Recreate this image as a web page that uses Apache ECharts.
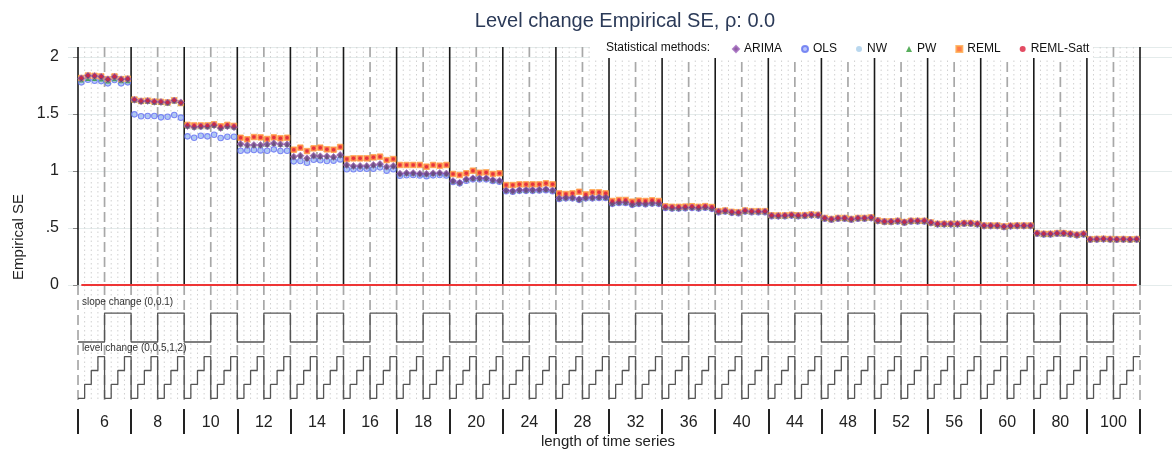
<!DOCTYPE html>
<html>
<head>
<meta charset="utf-8">
<script src="https://cdn.jsdelivr.net/npm/echarts@6/dist/echarts.min.js"></script>
<style>
  html, body { margin: 0; padding: 0; background: #fff; }
  #main { width: 1172px; height: 455px; }
</style>
</head>
<body>
<div id="main"></div>
<script>
// length of time series (outer loop), slope change and level change (inner loops)
var groups = ['6', '8', '10', '12', '14', '16', '18', '20', '24', '28', '32', '36', '40', '44', '48', '52', '56', '60', '80', '100'];
var slopeLevels = [0, 0.1];
var levelLevels = [0, 0.5, 1, 2];
var methods = ['ARIMA', 'OLS', 'NW', 'PW', 'REML', 'REML-Satt'];
var yTicks = [0, 0.5, 1, 1.5, 2];

// empirical SE, 8 values per series length (slope x level)
var arimaSE = [
  1.813, 1.836, 1.833, 1.827, 1.804, 1.827, 1.804, 1.807,
  1.625, 1.612, 1.615, 1.607, 1.606, 1.600, 1.618, 1.602,
  1.395, 1.386, 1.390, 1.390, 1.402, 1.377, 1.392, 1.385,
  1.237, 1.228, 1.228, 1.228, 1.234, 1.243, 1.234, 1.234,
  1.126, 1.135, 1.111, 1.135, 1.129, 1.129, 1.123, 1.140,
  1.053, 1.044, 1.044, 1.044, 1.053, 1.061, 1.038, 1.044,
  0.977, 0.982, 0.982, 0.977, 0.975, 0.980, 0.983, 0.978,
  0.912, 0.898, 0.927, 0.936, 0.936, 0.936, 0.921, 0.915,
  0.830, 0.825, 0.833, 0.833, 0.833, 0.836, 0.839, 0.830,
  0.760, 0.766, 0.766, 0.752, 0.766, 0.766, 0.769, 0.769,
  0.717, 0.725, 0.725, 0.708, 0.717, 0.713, 0.719, 0.717,
  0.680, 0.675, 0.675, 0.678, 0.680, 0.676, 0.682, 0.672,
  0.643, 0.649, 0.637, 0.634, 0.649, 0.643, 0.643, 0.643,
  0.608, 0.606, 0.607, 0.612, 0.607, 0.609, 0.615, 0.612,
  0.585, 0.576, 0.585, 0.585, 0.576, 0.585, 0.585, 0.590,
  0.564, 0.556, 0.556, 0.561, 0.550, 0.561, 0.561, 0.561,
  0.547, 0.535, 0.535, 0.535, 0.535, 0.541, 0.541, 0.535,
  0.520, 0.520, 0.520, 0.512, 0.518, 0.520, 0.520, 0.520,
  0.453, 0.447, 0.447, 0.453, 0.453, 0.447, 0.439, 0.447,
  0.400, 0.402, 0.404, 0.401, 0.400, 0.401, 0.399, 0.401
];
var olsSE = [
  1.778, 1.801, 1.792, 1.789, 1.769, 1.798, 1.769, 1.778,
  1.497, 1.480, 1.482, 1.482, 1.471, 1.476, 1.491, 1.468,
  1.304, 1.292, 1.310, 1.304, 1.318, 1.289, 1.301, 1.301,
  1.178, 1.181, 1.184, 1.181, 1.178, 1.190, 1.175, 1.178,
  1.085, 1.088, 1.073, 1.099, 1.094, 1.088, 1.091, 1.102,
  1.015, 1.015, 1.020, 1.020, 1.020, 1.032, 1.003, 1.015,
  0.958, 0.963, 0.965, 0.960, 0.955, 0.962, 0.965, 0.960,
  0.904, 0.892, 0.915, 0.927, 0.927, 0.927, 0.912, 0.906,
  0.822, 0.818, 0.826, 0.826, 0.826, 0.829, 0.832, 0.823,
  0.755, 0.760, 0.760, 0.747, 0.760, 0.760, 0.763, 0.763,
  0.712, 0.720, 0.720, 0.703, 0.712, 0.708, 0.714, 0.712,
  0.676, 0.671, 0.671, 0.674, 0.676, 0.672, 0.678, 0.668,
  0.639, 0.645, 0.633, 0.630, 0.645, 0.639, 0.639, 0.639,
  0.604, 0.603, 0.604, 0.609, 0.604, 0.606, 0.611, 0.609,
  0.582, 0.573, 0.582, 0.582, 0.573, 0.582, 0.582, 0.587,
  0.561, 0.553, 0.553, 0.558, 0.547, 0.558, 0.558, 0.558,
  0.544, 0.532, 0.532, 0.532, 0.532, 0.538, 0.538, 0.532,
  0.517, 0.517, 0.517, 0.509, 0.515, 0.517, 0.517, 0.517,
  0.450, 0.444, 0.444, 0.450, 0.450, 0.444, 0.436, 0.444,
  0.398, 0.400, 0.402, 0.399, 0.398, 0.399, 0.397, 0.399
];
var nwSE = [
  1.780, 1.803, 1.794, 1.791, 1.771, 1.800, 1.771, 1.780,
  1.498, 1.481, 1.483, 1.483, 1.472, 1.477, 1.492, 1.469,
  1.305, 1.293, 1.311, 1.305, 1.319, 1.290, 1.302, 1.302,
  1.179, 1.182, 1.185, 1.182, 1.179, 1.191, 1.176, 1.179,
  1.086, 1.089, 1.074, 1.100, 1.095, 1.089, 1.092, 1.103,
  1.016, 1.016, 1.021, 1.021, 1.021, 1.033, 1.004, 1.016,
  0.959, 0.964, 0.966, 0.961, 0.956, 0.963, 0.966, 0.961,
  0.905, 0.893, 0.916, 0.928, 0.928, 0.928, 0.913, 0.907,
  0.823, 0.819, 0.827, 0.827, 0.827, 0.830, 0.833, 0.824,
  0.756, 0.761, 0.761, 0.748, 0.761, 0.761, 0.764, 0.764,
  0.713, 0.721, 0.721, 0.704, 0.713, 0.709, 0.715, 0.713,
  0.677, 0.672, 0.672, 0.675, 0.677, 0.673, 0.679, 0.669,
  0.640, 0.646, 0.634, 0.631, 0.646, 0.640, 0.640, 0.640,
  0.605, 0.604, 0.605, 0.610, 0.605, 0.607, 0.612, 0.610,
  0.583, 0.574, 0.583, 0.583, 0.574, 0.583, 0.583, 0.588,
  0.562, 0.554, 0.554, 0.559, 0.548, 0.559, 0.559, 0.559,
  0.545, 0.533, 0.533, 0.533, 0.533, 0.539, 0.539, 0.533,
  0.518, 0.518, 0.518, 0.510, 0.516, 0.518, 0.518, 0.518,
  0.451, 0.445, 0.445, 0.451, 0.451, 0.445, 0.437, 0.445,
  0.399, 0.401, 0.403, 0.400, 0.399, 0.400, 0.398, 0.400
];
var pwSE = [
  1.798, 1.812, 1.812, 1.808, 1.790, 1.810, 1.792, 1.793,
  1.622, 1.609, 1.612, 1.604, 1.603, 1.597, 1.615, 1.599,
  1.393, 1.384, 1.388, 1.388, 1.400, 1.375, 1.390, 1.383,
  1.236, 1.227, 1.227, 1.227, 1.233, 1.242, 1.233, 1.233,
  1.125, 1.134, 1.110, 1.134, 1.128, 1.128, 1.122, 1.139,
  1.052, 1.043, 1.043, 1.043, 1.052, 1.060, 1.037, 1.043,
  0.976, 0.981, 0.981, 0.976, 0.974, 0.979, 0.982, 0.977,
  0.911, 0.897, 0.926, 0.935, 0.935, 0.935, 0.920, 0.914,
  0.829, 0.824, 0.832, 0.832, 0.832, 0.835, 0.838, 0.829,
  0.759, 0.765, 0.765, 0.751, 0.765, 0.765, 0.768, 0.768,
  0.716, 0.724, 0.724, 0.707, 0.716, 0.712, 0.718, 0.716,
  0.679, 0.674, 0.674, 0.677, 0.679, 0.675, 0.681, 0.671,
  0.642, 0.648, 0.636, 0.633, 0.648, 0.642, 0.642, 0.642,
  0.607, 0.605, 0.606, 0.611, 0.606, 0.608, 0.614, 0.611,
  0.584, 0.575, 0.584, 0.584, 0.575, 0.584, 0.584, 0.589,
  0.563, 0.555, 0.555, 0.560, 0.549, 0.560, 0.560, 0.560,
  0.546, 0.534, 0.534, 0.534, 0.534, 0.540, 0.540, 0.534,
  0.519, 0.519, 0.519, 0.511, 0.517, 0.519, 0.519, 0.519,
  0.452, 0.446, 0.446, 0.452, 0.452, 0.446, 0.438, 0.446,
  0.399, 0.401, 0.403, 0.400, 0.399, 0.400, 0.398, 0.400
];
var remlSE = [
  1.816, 1.838, 1.835, 1.830, 1.806, 1.830, 1.806, 1.810,
  1.627, 1.614, 1.617, 1.609, 1.607, 1.602, 1.620, 1.596,
  1.405, 1.400, 1.400, 1.400, 1.410, 1.392, 1.405, 1.396,
  1.292, 1.278, 1.298, 1.295, 1.281, 1.295, 1.287, 1.292,
  1.187, 1.205, 1.175, 1.199, 1.205, 1.190, 1.187, 1.211,
  1.105, 1.111, 1.111, 1.111, 1.120, 1.126, 1.096, 1.105,
  1.053, 1.053, 1.053, 1.053, 1.038, 1.053, 1.047, 1.053,
  0.974, 0.965, 0.980, 1.003, 0.985, 0.988, 0.974, 0.980,
  0.877, 0.877, 0.883, 0.883, 0.883, 0.883, 0.892, 0.883,
  0.804, 0.798, 0.804, 0.818, 0.795, 0.813, 0.813, 0.804,
  0.737, 0.746, 0.746, 0.731, 0.740, 0.737, 0.743, 0.737,
  0.690, 0.686, 0.686, 0.688, 0.691, 0.686, 0.692, 0.684,
  0.648, 0.654, 0.642, 0.639, 0.654, 0.648, 0.648, 0.648,
  0.612, 0.610, 0.611, 0.616, 0.611, 0.613, 0.619, 0.616,
  0.588, 0.579, 0.588, 0.588, 0.579, 0.588, 0.588, 0.593,
  0.566, 0.558, 0.558, 0.563, 0.552, 0.563, 0.563, 0.563,
  0.549, 0.537, 0.537, 0.537, 0.537, 0.543, 0.543, 0.537,
  0.522, 0.522, 0.522, 0.514, 0.520, 0.522, 0.522, 0.522,
  0.455, 0.449, 0.449, 0.455, 0.455, 0.449, 0.441, 0.449,
  0.402, 0.404, 0.406, 0.403, 0.402, 0.403, 0.401, 0.403
];
// REML-Satt SE coincides with REML (the red dots sit inside the orange squares)
var remlSattSE = remlSE.slice();

var FONT = "'Liberation Sans', Arial, sans-serif";
var nInner = slopeLevels.length * levelLevels.length;
var nPts = groups.length * nInner;
var xMin = -1.507, xMax = 164.82;
var yTop = 2.088, yBottom = -1.009;

function pts(arr) {
  return arr.map(function (v, i) { return [i + 0.5, v]; });
}

// design step lines under the plot
function slopeY(k) { return -0.5 + k * 0.254; }
function levelY(k) { return -0.994 + k * 0.122; }
var slopeStep = [], levelStep = [];
for (var g = 0; g < groups.length; g++) {
  for (var s = 0; s < slopeLevels.length; s++) {
    for (var l = 0; l < levelLevels.length; l++) {
      var idx = g * nInner + s * levelLevels.length + l;
      slopeStep.push([idx, slopeY(s)]);
      levelStep.push([idx, levelY(l)]);
    }
  }
}
slopeStep.push([nPts, slopeStep[nPts - 1][1]]);
levelStep.push([nPts, levelStep[nPts - 1][1]]);

// vertical reference lines: 2 = length boundary, 1 = slope boundary, 0 = level boundary
var vData = [];
for (var i = 0; i <= nPts; i++) {
  vData.push([i, i % nInner === 0 ? 2 : (i % levelLevels.length === 0 ? 1 : 0)]);
}

function vlines(ylo, yhi, solidOuter) {
  return function (params, api) {
    var x = api.value(0), k = api.value(1);
    var p1 = api.coord([x, yhi]), p2 = api.coord([x, ylo]);
    var style;
    if (k === 2 && solidOuter) style = { stroke: '#1a1a1a', lineWidth: 1.6 };
    else if (k >= 1) style = { stroke: '#a8a8a8', lineWidth: 1.7, lineDash: [10, 5] };
    else style = { stroke: '#d0d0d0', lineWidth: 1, lineDash: [1.5, 3] };
    return {
      type: 'line',
      shape: { x1: p1[0], y1: p1[1], x2: p2[0], y2: p2[1] },
      style: style
    };
  };
}

var chart = echarts.init(document.getElementById('main'));

var option = {
  backgroundColor: '#fff',
  animation: false,
  textStyle: { fontFamily: FONT },
  title: {
    text: 'Level change Empirical SE, ρ: 0.0',
    left: 620,
    textAlign: 'center',
    top: 6,
    textStyle: { fontSize: 20, fontWeight: 'normal', color: '#2b3a58', fontFamily: FONT }
  },
  legend: {
    data: methods,
    left: 590,
    right: 0,
    top: 40,
    itemWidth: 6,
    itemHeight: 6,
    itemGap: 19,
    padding: [3, 4, 3, 142],
    backgroundColor: '#fff',
    textStyle: { fontSize: 12, color: '#111', fontFamily: FONT }
  },
  grid: [
    { left: 68, right: 0, top: 47, height: 238 },
    { left: 68, right: 0, top: 285, height: 115 },
    { left: 78, right: 32, top: 409, height: 25 }
  ],
  xAxis: [
    { gridIndex: 0, type: 'value', min: xMin, max: xMax, show: false },
    { gridIndex: 1, type: 'value', min: xMin, max: xMax, show: false },
    {
      gridIndex: 2, type: 'category', data: groups, boundaryGap: true,
      axisLine: { show: false }, axisTick: { show: false },
      splitLine: { show: true, lineStyle: { color: '#222', width: 2 } },
      axisLabel: { inside: true, margin: 3, fontSize: 16, color: '#222', fontFamily: FONT }
    }
  ],
  yAxis: [
    {
      gridIndex: 0, type: 'value', min: 0, max: yTop, interval: 0.5,
      axisLine: { show: false },
      axisTick: { show: true, length: 5, lineStyle: { color: '#888' } },
      axisLabel: {
        margin: 9, fontSize: 16, color: '#222', fontFamily: FONT, showMaxLabel: false,
        formatter: function (v) {
          if (yTicks.indexOf(v) < 0) return '';
          return v === 0.5 ? '.5' : String(v);
        }
      },
      splitLine: { show: true, lineStyle: { color: '#e4ebeb', width: 1.2 } }
    },
    { gridIndex: 1, type: 'value', min: yBottom, max: 0, show: false },
    { gridIndex: 2, type: 'value', show: false }
  ],
  graphic: [
    {
      type: 'text', left: 606, top: 42, z: 100,
      style: { text: 'Statistical methods:', fill: '#111', font: '12px ' + FONT }
    },
    {
      type: 'text', x: 82, y: 297, z: 100,
      style: { text: 'slope change (0,0.1)', fill: '#333', font: '10px ' + FONT }
    },
    {
      type: 'text', x: 82, y: 343, z: 100,
      style: { text: 'level change (0,0.5,1,2)', fill: '#333', font: '10px ' + FONT }
    },
    {
      type: 'text', x: 19, y: 237, rotation: Math.PI / 2, z: 100,
      style: { text: 'Empirical SE', fill: '#222', font: '15px ' + FONT, align: 'center', verticalAlign: 'middle' }
    },
    {
      type: 'text', x: 608, y: 442, z: 100,
      style: { text: 'length of time series', fill: '#222', font: '15px ' + FONT, align: 'center', verticalAlign: 'middle' }
    }
  ],
  series: [
    {
      type: 'custom', xAxisIndex: 0, yAxisIndex: 0, data: vData, silent: true, z: 1,
      renderItem: vlines(0, yTop, true)
    },
    {
      type: 'custom', xAxisIndex: 1, yAxisIndex: 1, data: vData, silent: true, z: 1,
      renderItem: vlines(yBottom, 0, false)
    },
    {
      name: 'slope', type: 'line', xAxisIndex: 1, yAxisIndex: 1, step: 'end', symbol: 'none',
      data: slopeStep, lineStyle: { color: '#555', width: 1.3 }, z: 2, silent: true
    },
    {
      name: 'level', type: 'line', xAxisIndex: 1, yAxisIndex: 1, step: 'end', symbol: 'none',
      data: levelStep, lineStyle: { color: '#555', width: 1.3 }, z: 2, silent: true
    },
    {
      name: 'OLS', type: 'scatter', data: pts(olsSE), symbol: 'circle', symbolSize: 5.5, z: 3,
      itemStyle: { color: '#aab6fb', borderColor: '#6072f0', borderWidth: 1.1 }
    },
    {
      name: 'NW', type: 'scatter', data: pts(nwSE), symbol: 'circle', symbolSize: 3, z: 4,
      itemStyle: { color: '#a8cdea' }
    },
    {
      name: 'REML', type: 'scatter', data: pts(remlSE), symbol: 'rect', symbolSize: 5.5, z: 5,
      itemStyle: { color: '#ff5a1e', borderColor: '#ffa74a', borderWidth: 1 }
    },
    {
      name: 'PW', type: 'scatter', data: pts(pwSE), symbol: 'triangle', symbolSize: 5, z: 6,
      itemStyle: { color: '#2f9a35' }
    },
    {
      name: 'ARIMA', type: 'scatter', data: pts(arimaSE), symbol: 'diamond', symbolSize: 7, z: 7,
      itemStyle: { color: '#6f3a86', borderColor: '#a066bd', borderWidth: 0.8 }
    },
    {
      name: 'REML-Satt', type: 'scatter', data: pts(remlSattSE), symbol: 'circle', symbolSize: 3.5, z: 8,
      itemStyle: { color: '#dc1f3c' },
      markLine: {
        silent: true, symbol: 'none', label: { show: false },
        lineStyle: { color: '#ee3535', width: 2, type: 'solid' },
        data: [[{ coord: [0.5, 0] }, { coord: [nPts - 0.5, 0] }]]
      }
    }
  ]
};

chart.setOption(option);
</script>
</body>
</html>
